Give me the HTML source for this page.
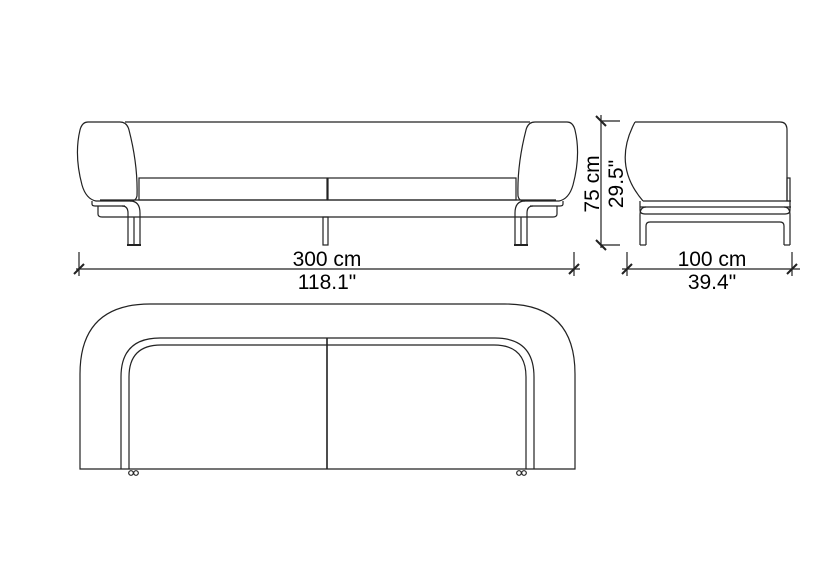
<!DOCTYPE html>
<html><head><style>html,body{margin:0;padding:0;background:#fff;}svg{display:block}</style></head>
<body>
<svg width="837" height="587" viewBox="0 0 837 587" xmlns="http://www.w3.org/2000/svg" fill="none" stroke="#222" stroke-width="1.2">
<line x1="125" y1="122" x2="530" y2="122"/>
<path d="M88,122 L120,122 Q127,122 129,130 Q138,165 137,196 Q136,201 131,201 L96,201 Q86,199 82,185 Q74,155 80,130 Q82,122 88,122 Z"/>
<path d="M567,122 L535,122 Q528,122 526,130 Q517,165 518,196 Q519,201 524,201 L559,201 Q569,199 573,185 Q581,155 575,130 Q573,122 567,122 Z"/>
<rect x="139" y="178" width="188" height="22"/>
<rect x="328" y="178" width="188" height="22"/>
<line x1="100" y1="200" x2="556" y2="200"/>
<path d="M92,201 L92,204 Q92,206 95,206 L125,206"/>
<path d="M563,201 L563,204 Q563,206 560,206 L530,206"/>
<path d="M98,206 L98,214 Q98,217 102,217 L553,217 Q557,217 557,214 L557,206"/>
<path d="M128,245 L128,213 Q128,206 122,206 M140,245 L140,213 Q140,201 130,201"/>
<line x1="127" y1="245" x2="141" y2="245" stroke-width="2"/>
<line x1="134" y1="217" x2="134" y2="245"/>
<path d="M527,245 L527,213 Q527,206 533,206 M515,245 L515,213 Q515,201 525,201"/>
<line x1="514" y1="245" x2="528" y2="245" stroke-width="2"/>
<line x1="521" y1="217" x2="521" y2="245"/>
<rect x="323" y="217" width="5" height="28"/>
<line x1="76" y1="269" x2="580" y2="269"/>
<line x1="79" y1="252" x2="79" y2="276"/>
<line x1="574" y1="252" x2="574" y2="276"/>
<line x1="74" y1="274" x2="84" y2="264" stroke-width="2"/>
<line x1="569" y1="274" x2="579" y2="264" stroke-width="2"/>
<g fill="#000" stroke="none" font-family="Liberation Sans, sans-serif" font-size="21" text-anchor="middle">
<text x="327" y="266">300 cm</text>
<text x="327" y="289">118.1"</text>
<text x="712" y="266">100 cm</text>
<text x="712" y="289">39.4"</text>
<text transform="translate(599,184) rotate(-90)">75 cm</text>
<text transform="translate(623,184) rotate(-90)">29.5"</text>
</g>
<path d="M635,122 L780,122 Q787,122 787,130 L787,201"/>
<path d="M635,122 Q612,165 643,201"/>
<line x1="643" y1="201" x2="791" y2="201"/>
<rect x="787" y="178" width="3" height="23"/>
<line x1="640" y1="207" x2="791" y2="207"/>
<path d="M640,245 L640,215 Q640,207 646,207 M646,245 L646,226 Q646,222 650,222 L780,222 Q784,222 784,226 L784,245 M790,245 L790,215 Q790,207 784,207"/>
<path d="M640,201 L640,210 Q640,214 645,214 L785,214 Q790,214 790,210 L790,201"/>
<line x1="640" y1="245" x2="646" y2="245"/>
<line x1="784" y1="245" x2="790" y2="245"/>
<line x1="601" y1="115" x2="601" y2="248"/>
<line x1="601" y1="121" x2="620" y2="121"/>
<line x1="601" y1="245" x2="620" y2="245"/>
<line x1="596" y1="116" x2="606" y2="126" stroke-width="2"/>
<line x1="596" y1="240" x2="606" y2="250" stroke-width="2"/>
<line x1="622" y1="269" x2="800" y2="269"/>
<line x1="627" y1="252" x2="627" y2="276"/>
<line x1="792" y1="252" x2="792" y2="276"/>
<line x1="622" y1="274" x2="632" y2="264" stroke-width="2"/>
<line x1="787" y1="274" x2="797" y2="264" stroke-width="2"/>
<path d="M80,469 L80,374 Q80,304 150,304 L505,304 Q575,304 575,374 L575,469 Z"/>
<path d="M121,469 L121,377 Q121,338 160,338 L495,338 Q534,338 534,377 L534,469"/>
<path d="M129,469 L129,377 Q129,345 161,345 L494,345 Q526,345 526,377 L526,469"/>
<line x1="327" y1="338" x2="327" y2="469" stroke-width="1.6"/>
<circle cx="131" cy="473" r="2.3"/><circle cx="136" cy="473" r="2.3"/>
<circle cx="519" cy="473" r="2.3"/><circle cx="524" cy="473" r="2.3"/>
</svg>
</body></html>
